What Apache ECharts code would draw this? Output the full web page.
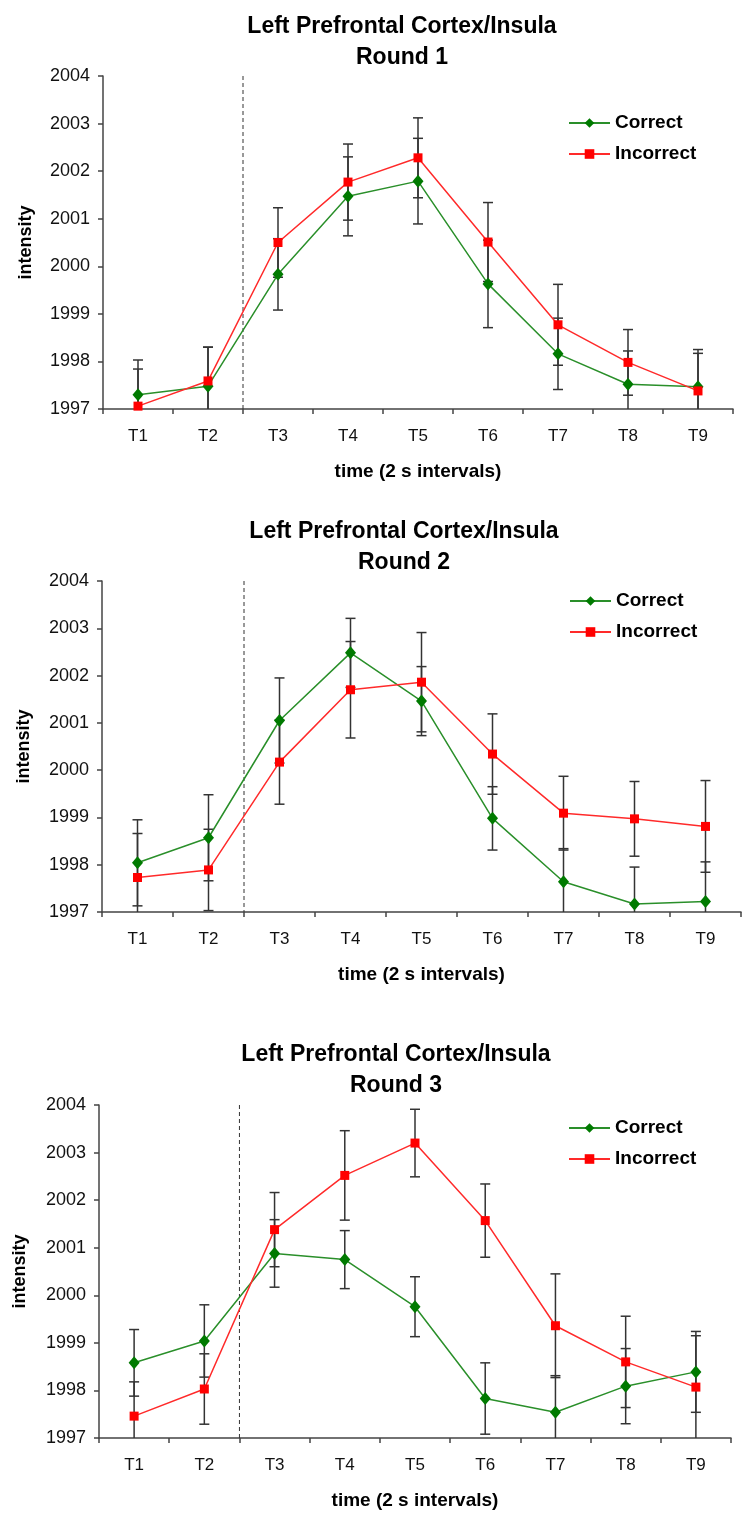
<!DOCTYPE html>
<html>
<head>
<meta charset="utf-8">
<script src="https://cdn.jsdelivr.net/npm/echarts@6/dist/echarts.min.js"></script>
<style>
html,body{margin:0;padding:0;background:#ffffff;}
#chart{width:750px;height:1519px;}
</style>
</head>
<body>
<div id="chart"></div>
<script>
// ---------- data ----------
const categories = ['T1', 'T2', 'T3', 'T4', 'T5', 'T6', 'T7', 'T8', 'T9'];
const yMin = 1997;
const yMax = 2004;
const yStep = 1;
const titleText = 'Left Prefrontal Cortex/Insula';
const roundLabels = ['Round 1', 'Round 2', 'Round 3'];
const seriesNames = ['Correct', 'Incorrect'];
const xAxisTitle = 'time (2 s intervals)';
const yAxisTitle = 'intensity';
const dividerAfterIndex = 1; // dashed line between T2 and T3

const correct1      = [1997.30, 1997.48, 1999.83, 2001.47, 2001.79, 1999.63, 1998.16, 1997.52, 1997.47];
const correctErr1   = [0.73, 0.82, 0.75, 0.83, 0.90, 0.92, 0.75, 0.70, 0.70];
const incorrect1    = [1997.06, 1997.59, 2000.50, 2001.77, 2002.28, 2000.51, 1998.77, 1997.98, 1997.38];
const incorrectErr1 = [0.78, 0.71, 0.73, 0.80, 0.84, 0.83, 0.85, 0.69, 0.87];

const correct2      = [1998.04, 1998.57, 2001.05, 2002.48, 2001.46, 1998.98, 1997.64, 1997.17, 1997.22];
const correctErr2   = [0.91, 0.91, 0.90, 0.73, 0.73, 0.67, 0.70, 0.78, 0.84];
const incorrect2    = [1997.73, 1997.89, 2000.17, 2001.70, 2001.86, 2000.34, 1999.09, 1998.97, 1998.81];
const incorrectErr2 = [0.93, 0.86, 0.89, 1.02, 1.05, 0.85, 0.78, 0.79, 0.97];

const correct3      = [1998.58, 1999.04, 2000.88, 2000.75, 1999.76, 1997.83, 1997.54, 1998.09, 1998.39];
const correctErr3   = [0.70, 0.76, 0.71, 0.61, 0.63, 0.75, 0.77, 0.79, 0.85];
const incorrect3    = [1997.46, 1998.03, 2001.38, 2002.52, 2003.20, 2001.57, 1999.36, 1998.60, 1998.07];
const incorrectErr3 = [0.72, 0.74, 0.78, 0.94, 0.71, 0.77, 1.09, 0.96, 1.08];

const rounds = [
  { correct: correct1, correctErr: correctErr1, incorrect: incorrect1, incorrectErr: incorrectErr1 },
  { correct: correct2, correctErr: correctErr2, incorrect: incorrect2, incorrectErr: incorrectErr2 },
  { correct: correct3, correctErr: correctErr3, incorrect: incorrect3, incorrectErr: incorrectErr3 }
];

// ---------- layout (pixels) ----------
const panels = [
  { left: 103, width: 630, top: 76,   height: 333, titleX: 402, titleTop: 11.5,   legendLeft: 568, legendTop: 113.5, yNameGap: 68 },
  { left: 102, width: 639, top: 581,  height: 331, titleX: 404, titleTop: 516.5,  legendLeft: 569, legendTop: 591.5, yNameGap: 69 },
  { left: 99,  width: 632, top: 1105, height: 333, titleX: 396, titleTop: 1039.5, legendLeft: 568, legendTop: 1118.5, yNameGap: 70 }
];

const FONT = '"Liberation Sans", Arial, sans-serif';
const AXIS_COLOR = '#444444';
const GREEN_LINE = '#2a8f2a';
const GREEN_MARK = '#007a00';
const RED_LINE = '#ff2a2a';
const RED_MARK = '#ff0000';
const ERR_COLOR = '#333333';

function errRender(params, api) {
  const idx = api.value(0);
  const v = api.value(1);
  const e = api.value(2);
  const hiV = v + e;
  const loV = v - e;
  const hi = api.coord([idx, Math.min(hiV, yMax)]);
  const lo = api.coord([idx, Math.max(loV, yMin)]);
  const cap = 5;
  const style = { stroke: ERR_COLOR, lineWidth: 1.5 };
  const children = [
    { type: 'line', shape: { x1: hi[0], y1: hi[1], x2: lo[0], y2: lo[1] }, style: style }
  ];
  if (hiV <= yMax) children.push({ type: 'line', shape: { x1: hi[0] - cap, y1: hi[1], x2: hi[0] + cap, y2: hi[1] }, style: style });
  if (loV >= yMin) children.push({ type: 'line', shape: { x1: lo[0] - cap, y1: lo[1], x2: lo[0] + cap, y2: lo[1] }, style: style });
  return { type: 'group', children: children };
}

function dividerRender(params, api) {
  const idx = api.value(0);
  const top = api.coord([idx, yMax]);
  const bot = api.coord([idx, yMin]);
  const half = api.size([1, 0])[0] / 2;
  return {
    type: 'line',
    shape: { x1: top[0] + half, y1: top[1], x2: bot[0] + half, y2: bot[1] },
    style: { stroke: '#333333', lineWidth: 1, lineDash: [4, 3] }
  };
}

const option = {
  animation: false,
  backgroundColor: '#ffffff',
  title: [],
  legend: [],
  grid: [],
  xAxis: [],
  yAxis: [],
  series: []
};

panels.forEach((p, k) => {
  option.title.push({
    text: titleText + '\n' + roundLabels[k],
    left: p.titleX,
    top: p.titleTop,
    textAlign: 'center',
    padding: 0,
    textStyle: { fontFamily: FONT, fontSize: 23, fontWeight: 'bold', color: '#000', lineHeight: 31 }
  });
  option.legend.push({
    data: seriesNames,
    orient: 'vertical',
    left: p.legendLeft,
    top: p.legendTop,
    padding: 0,
    itemWidth: 41,
    itemHeight: 12,
    itemGap: 12,
    selectedMode: false,
    textStyle: { fontFamily: FONT, fontSize: 19, fontWeight: 'bold', color: '#000', lineHeight: 19 }
  });
  option.grid.push({ left: p.left, top: p.top, width: p.width, height: p.height, containLabel: false });
  option.xAxis.push({
    type: 'category',
    gridIndex: k,
    data: categories,
    boundaryGap: true,
    name: xAxisTitle,
    nameLocation: 'middle',
    nameGap: 53,
    nameTextStyle: { fontFamily: FONT, fontSize: 19, fontWeight: 'bold', color: '#000' },
    axisLine: { lineStyle: { color: AXIS_COLOR, width: 1.5 } },
    axisTick: { show: true, length: 5, lineStyle: { color: AXIS_COLOR, width: 1.5 } },
    axisLabel: { fontFamily: FONT, fontSize: 17, color: '#111', margin: 19 },
    splitLine: { show: false }
  });
  option.yAxis.push({
    type: 'value',
    gridIndex: k,
    min: yMin,
    max: yMax,
    interval: yStep,
    name: yAxisTitle,
    nameLocation: 'middle',
    nameRotate: 90,
    nameGap: p.yNameGap,
    nameTextStyle: { fontFamily: FONT, fontSize: 18, fontWeight: 'bold', color: '#000' },
    axisLine: { show: true, lineStyle: { color: AXIS_COLOR, width: 1.5 } },
    axisTick: { show: true, length: 5, lineStyle: { color: AXIS_COLOR, width: 1.5 } },
    axisLabel: { fontFamily: FONT, fontSize: 18, color: '#111', margin: 13, formatter: (v) => String(v) },
    splitLine: { show: false }
  });

  const r = rounds[k];
  option.series.push({
    type: 'custom',
    name: 'divider' + k,
    xAxisIndex: k, yAxisIndex: k,
    renderItem: dividerRender,
    data: [[dividerAfterIndex]],
    encode: { x: 0 },
    silent: true,
    z: 1
  });
  option.series.push({
    type: 'custom',
    name: 'errCorrect' + k,
    xAxisIndex: k, yAxisIndex: k,
    renderItem: errRender,
    data: r.correct.map((v, i) => [i, v, r.correctErr[i]]),
    encode: { x: 0, y: 1 },
    silent: true,
    z: 2
  });
  option.series.push({
    type: 'custom',
    name: 'errIncorrect' + k,
    xAxisIndex: k, yAxisIndex: k,
    renderItem: errRender,
    data: r.incorrect.map((v, i) => [i, v, r.incorrectErr[i]]),
    encode: { x: 0, y: 1 },
    silent: true,
    z: 2
  });
  option.series.push({
    type: 'line',
    name: seriesNames[0],
    xAxisIndex: k, yAxisIndex: k,
    data: r.correct,
    symbol: 'diamond',
    symbolSize: [11, 13],
    showAllSymbol: true,
    lineStyle: { color: GREEN_LINE, width: 1.5 },
    itemStyle: { color: GREEN_MARK },
    z: 4
  });
  option.series.push({
    type: 'line',
    name: seriesNames[1],
    xAxisIndex: k, yAxisIndex: k,
    data: r.incorrect,
    symbol: 'rect',
    symbolSize: 9,
    showAllSymbol: true,
    lineStyle: { color: RED_LINE, width: 1.5 },
    itemStyle: { color: RED_MARK },
    z: 5
  });
});

const chart = echarts.init(document.getElementById('chart'), null, { renderer: 'canvas' });
chart.setOption(option);
</script>
</body>
</html>
